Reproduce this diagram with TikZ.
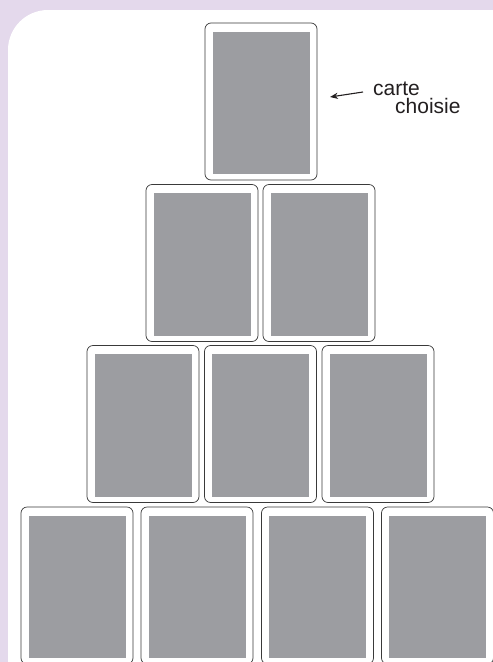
\documentclass[tikz,border=0pt]{standalone}
\usepackage{fontspec}
\setmainfont{Liberation Sans}
\usetikzlibrary{arrows.meta, positioning}
\definecolor{bgLilac}{HTML}{E4D9EC}
\definecolor{cardGray}{HTML}{9C9DA1}
\definecolor{cardEdge}{HTML}{3A3A3A}
\definecolor{labelInk}{HTML}{231F20}
\tikzset{
  arrowK/.style={-{Stealth[length=2.8mm, width=2.2mm]}, labelInk, line width=1.1pt},
  card/.style={rectangle, rounded corners=6pt, draw=cardEdge, fill=white,
               line width=0.7pt, minimum width=112pt, minimum height=157pt,
               inner sep=0pt,
               path picture={\fill[cardGray, sharp corners]
                 ([shift={(7.5pt,-8.5pt)}]path picture bounding box.north west) rectangle
                 ([shift={(-7.5pt,6pt)}]path picture bounding box.south east);}},
  lbl/.style={inner sep=0pt, text=labelInk, font=\fontsize{21}{18}\selectfont},
}
\begin{document}
\begin{tikzpicture}[x=1pt, y=-1pt]
    \useasboundingbox (0,0) rectangle (493,662);
    \clip (0,0) rectangle (493,662);
    % page ground
    \fill[bgLilac] (0,0) rectangle (493,662);
    \fill[white, rounded corners=40pt] (8,10) rectangle (560,700);
    % pyramid of cards
    \node[card] (top) at (261,101.5) {};
    \node[card] (r2a) at (202,263) {};
    \node[card] (r2b) at (319,263) {};
    \node[card] (r3a) at (143,424) {};
    \node[card] (r3b) at (260.5,424) {};
    \node[card] (r3c) at (378,424) {};
    \node[card] (r4a) at (77,585.5) {};
    \node[card] (r4b) at (197,585.5) {};
    \node[card] (r4c) at (317.5,585.5) {};
    \node[card] (r4d) at (437.5,585.5) {};
    % label
    \node[lbl, anchor=base west] (carte) at (373,95) {carte};
    \node[lbl, anchor=base west] (choisie) at (395,113) {choisie};
    \coordinate (pick) at (330,97);
    \draw[arrowK] ([shift={(-10pt,3pt)}]carte.base west) -- (pick);
\end{tikzpicture}
\end{document}
